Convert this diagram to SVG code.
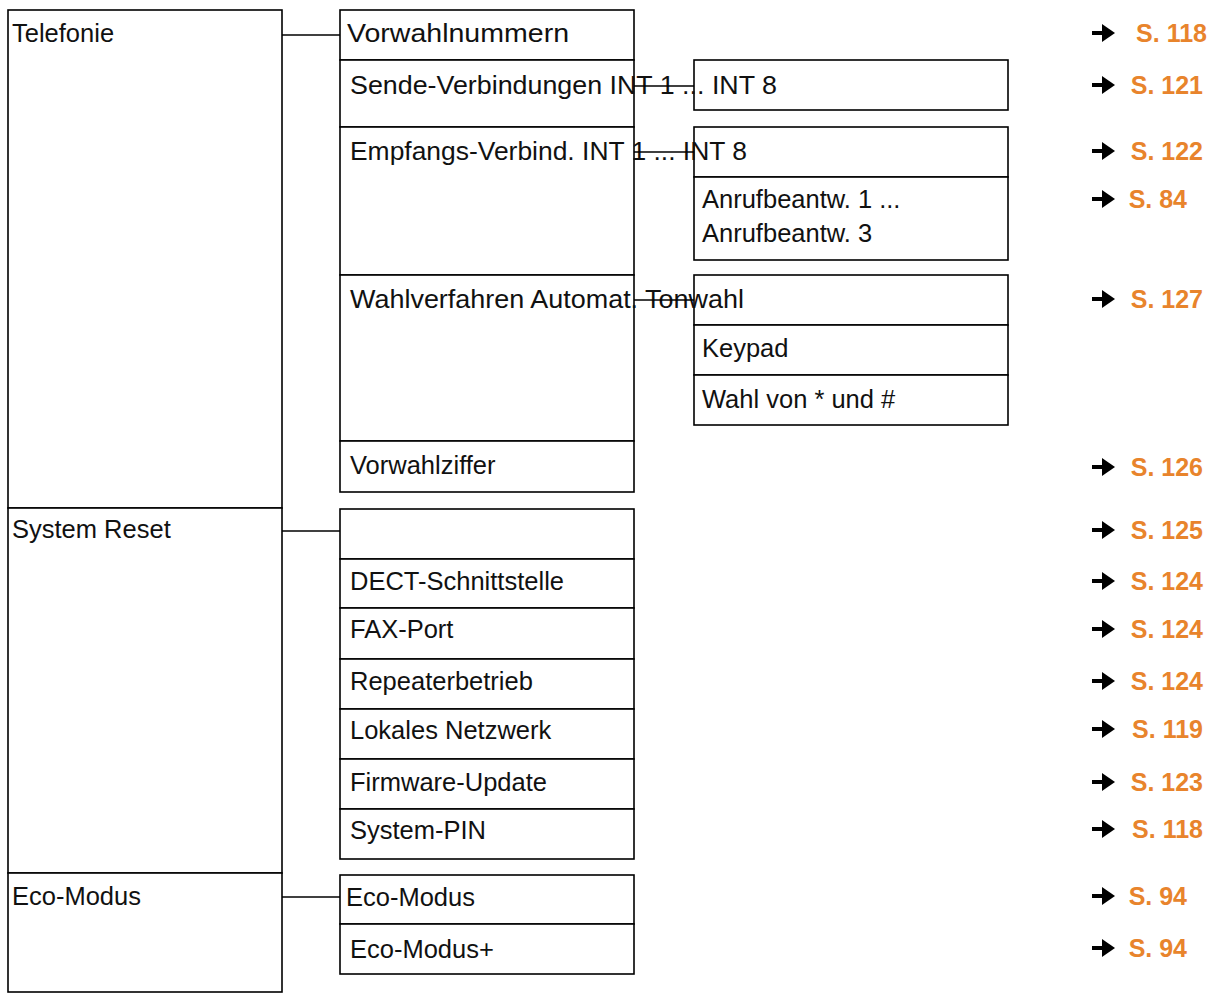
<svg xmlns="http://www.w3.org/2000/svg" width="1212" height="993" viewBox="0 0 1212 993">
<style>
rect{fill:#fff;stroke:#000;stroke-width:1.6}
text{font-family:"Liberation Sans",Arial,sans-serif;font-size:25.5px;fill:#111}
.r{font-weight:bold;font-size:25px;fill:#e8842c;text-anchor:end}
.c line{stroke:#000;stroke-width:1.6}
</style>
<defs>
<g id="ar"><path d="M0 0 H15" stroke="#000" stroke-width="4"/><path d="M10 -9 L23 0 L10 9 Z" fill="#000"/></g>
</defs>
<g id="n-left">
<rect x="8" y="10" width="274" height="498"/>
<rect x="8" y="508" width="274" height="365"/>
<rect x="8" y="873" width="274" height="119"/>
<text x="12" y="42">Telefonie</text>
<text x="12" y="538">System Reset</text>
<text x="12" y="905">Eco-Modus</text>
</g>
<g id="n-mid">
<rect x="340" y="10" width="294" height="50"/>
<rect x="340" y="60" width="294" height="67"/>
<rect x="340" y="127" width="294" height="148"/>
<rect x="340" y="275" width="294" height="166"/>
<rect x="340" y="441" width="294" height="51"/>
<rect x="340" y="509" width="294" height="50"/>
<rect x="340" y="559" width="294" height="49"/>
<rect x="340" y="608" width="294" height="51"/>
<rect x="340" y="659" width="294" height="50"/>
<rect x="340" y="709" width="294" height="50"/>
<rect x="340" y="759" width="294" height="50"/>
<rect x="340" y="809" width="294" height="50"/>
<rect x="340" y="875" width="294" height="49"/>
<rect x="340" y="924" width="294" height="50"/>
</g>
<g id="n-right">
<rect x="694" y="60" width="314" height="50"/>
<rect x="694" y="127" width="314" height="50"/>
<rect x="694" y="177" width="314" height="83"/>
<rect x="694" y="275" width="314" height="50"/>
<rect x="694" y="325" width="314" height="50"/>
<rect x="694" y="375" width="314" height="50"/>
</g>
<g id="labels">
<text x="347" y="42" textLength="222" lengthAdjust="spacingAndGlyphs">Vorwahlnummern</text>
<text x="350" y="94" textLength="427" lengthAdjust="spacingAndGlyphs">Sende-Verbindungen INT 1 ... INT 8</text>
<text x="350" y="160" textLength="397" lengthAdjust="spacingAndGlyphs">Empfangs-Verbind. INT 1 ... INT 8</text>
<text x="702" y="208">Anrufbeantw. 1 ...</text>
<text x="702" y="242">Anrufbeantw. 3</text>
<text x="350" y="308" textLength="394" lengthAdjust="spacingAndGlyphs">Wahlverfahren Automat. Tonwahl</text>
<text x="702" y="357">Keypad</text>
<text x="702" y="408">Wahl von * und #</text>
<text x="350" y="474">Vorwahlziffer</text>
<text x="350" y="590">DECT-Schnittstelle</text>
<text x="350" y="638">FAX-Port</text>
<text x="350" y="690">Repeaterbetrieb</text>
<text x="350" y="739">Lokales Netzwerk</text>
<text x="350" y="791">Firmware-Update</text>
<text x="350" y="839">System-PIN</text>
<text x="346" y="906">Eco-Modus</text>
<text x="350" y="958">Eco-Modus+</text>
</g>
<g class="c" id="connectors">
<line x1="282" y1="35" x2="340" y2="35"/>
<line x1="282" y1="531" x2="340" y2="531"/>
<line x1="282" y1="897" x2="340" y2="897"/>
<line x1="634" y1="86" x2="694" y2="86"/>
<line x1="634" y1="152" x2="694" y2="152"/>
<line x1="634" y1="300" x2="694" y2="300"/>
</g>
<g id="refs">
<use href="#ar" x="1092" y="33"/><text class="r" x="1207" y="42">S. 118</text>
<use href="#ar" x="1092" y="85"/><text class="r" x="1203" y="94">S. 121</text>
<use href="#ar" x="1092" y="151"/><text class="r" x="1203" y="160">S. 122</text>
<use href="#ar" x="1092" y="199"/><text class="r" x="1187" y="208">S. 84</text>
<use href="#ar" x="1092" y="299"/><text class="r" x="1203" y="308">S. 127</text>
<use href="#ar" x="1092" y="467"/><text class="r" x="1203" y="476">S. 126</text>
<use href="#ar" x="1092" y="530"/><text class="r" x="1203" y="539">S. 125</text>
<use href="#ar" x="1092" y="581"/><text class="r" x="1203" y="590">S. 124</text>
<use href="#ar" x="1092" y="629"/><text class="r" x="1203" y="638">S. 124</text>
<use href="#ar" x="1092" y="681"/><text class="r" x="1203" y="690">S. 124</text>
<use href="#ar" x="1092" y="729"/><text class="r" x="1203" y="738">S. 119</text>
<use href="#ar" x="1092" y="782"/><text class="r" x="1203" y="791">S. 123</text>
<use href="#ar" x="1092" y="829"/><text class="r" x="1203" y="838">S. 118</text>
<use href="#ar" x="1092" y="896"/><text class="r" x="1187" y="905">S. 94</text>
<use href="#ar" x="1092" y="948"/><text class="r" x="1187" y="957">S. 94</text>
</g>
</svg>
